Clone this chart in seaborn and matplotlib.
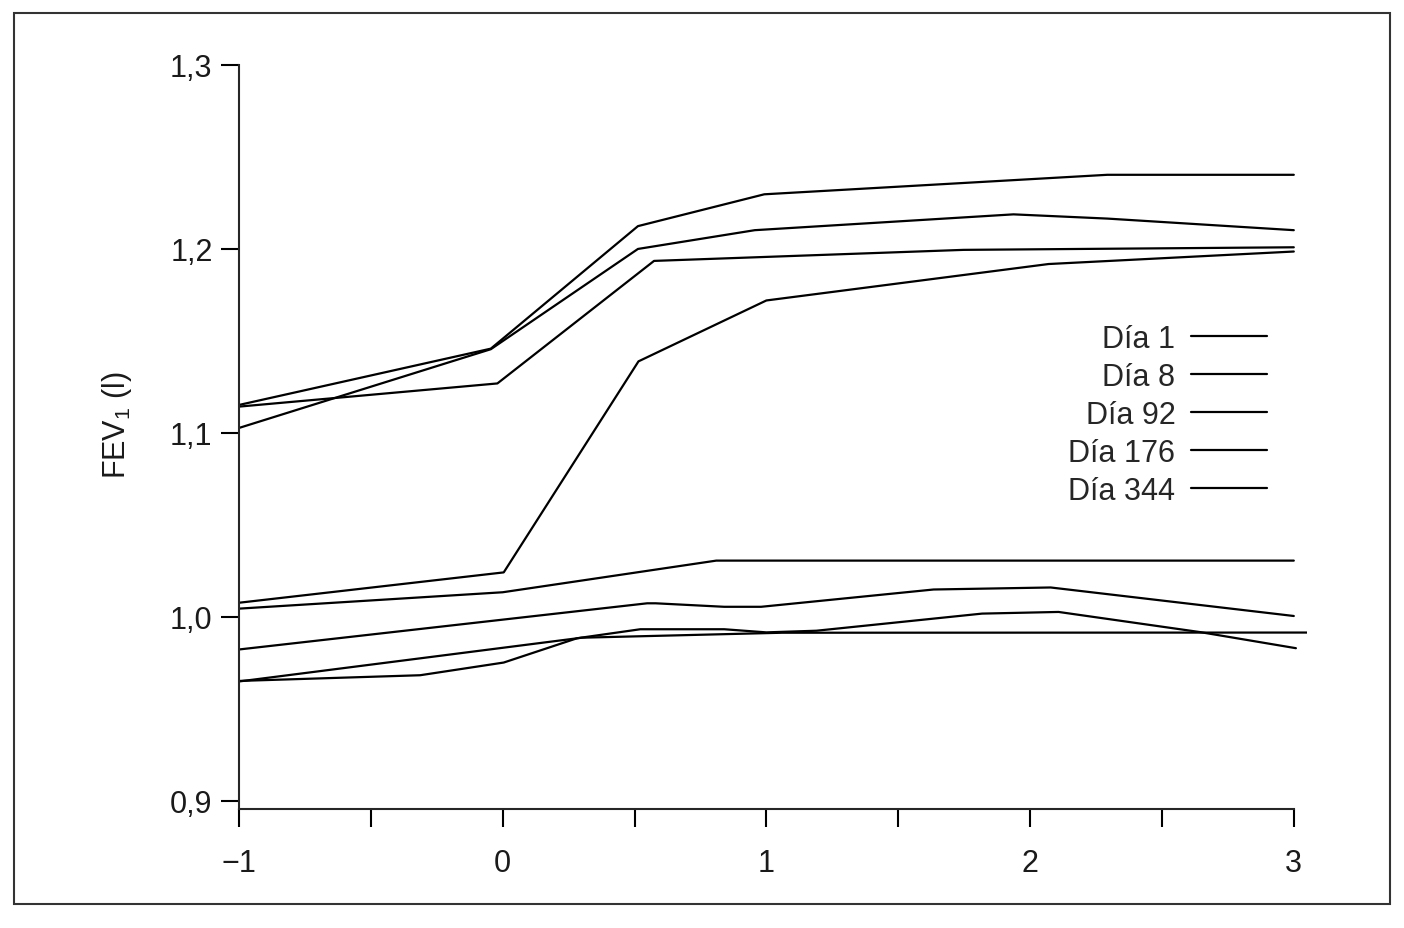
import pandas as pd
import matplotlib.pyplot as plt
import seaborn as sns
from matplotlib.lines import Line2D
from matplotlib.patches import Rectangle

# curvas superiores
x_sup1 = [-1, -0.045, 0.513, 0.992, 2.293, 3.0]
y_sup1 = [1.1152, 1.1458, 1.2124, 1.2297, 1.2403, 1.2403]
x_sup2 = [-1, -0.045, 0.513, 0.956, 1.937, 2.293, 3.0]
y_sup2 = [1.1027, 1.1455, 1.2000, 1.2102, 1.2188, 1.2165, 1.2102]
x_sup3 = [-1, -0.02, 0.574, 1.748, 3.0]
y_sup3 = [1.1143, 1.1269, 1.1935, 1.1995, 1.2009]
x_sup4 = [-1, 0.004, 0.515, 1.0, 2.07, 3.0]
y_sup4 = [1.0077, 1.0242, 1.1389, 1.1720, 1.1918, 1.1986]

# curvas inferiores
x_inf1 = [-1, 0.0, 0.81, 3.0]
y_inf1 = [1.0045, 1.0134, 1.0306, 1.0306]
x_inf2 = [-1, 0.548, 0.58, 0.84, 0.98, 1.634, 2.078, 3.0]
y_inf2 = [0.9823, 1.0074, 1.0074, 1.0055, 1.0055, 1.0149, 1.0160, 1.0005]
x_inf3 = [-1.05, 0.30, 1.06, 3.05]
y_inf3 = [0.9640, 0.9887, 0.9914, 0.9915]
x_inf4 = [-1, -0.313, 0.004, 0.282, 0.522, 0.84, 1.0, 1.19, 1.818, 2.108, 2.647, 3.008]
y_inf4 = [0.9652, 0.9683, 0.9752, 0.9884, 0.9933, 0.9933, 0.9916, 0.9925, 1.0018, 1.0027, 0.9917, 0.9830]

dias = ['Día 1', 'Día 8', 'Día 92', 'Día 176', 'Día 344']
y_ticks = [0.9, 1.0, 1.1, 1.2, 1.3]
y_labels = ['0,9', '1,0', '1,1', '1,2', '1,3']
x_ticks = [-1, 0, 1, 2, 3]
x_labels = ['\u22121', '0', '1', '2', '3']

curvas = {
    'sup1': (x_sup1, y_sup1), 'sup2': (x_sup2, y_sup2),
    'sup3': (x_sup3, y_sup3), 'sup4': (x_sup4, y_sup4),
    'inf1': (x_inf1, y_inf1), 'inf2': (x_inf2, y_inf2),
    'inf3': (x_inf3, y_inf3), 'inf4': (x_inf4, y_inf4),
}
df = pd.concat([pd.DataFrame({'x': xs, 'fev1': ys, 'curva': k}) for k, (xs, ys) in curvas.items()])

sns.set_style('ticks')
plt.rcParams['font.family'] = ['Liberation Sans Narrow', 'Liberation Sans', 'DejaVu Sans']
plt.rcParams['mathtext.default'] = 'regular'

fig = plt.figure(figsize=(14.04, 9.29), dpi=100)
ax = fig.add_axes([0.1702, 0.1281, 0.7607, 0.8009])

sns.lineplot(data=df, x='x', y='fev1', units='curva', estimator=None, sort=False,
             color='black', lw=1.6, ax=ax)

ax.set_xlim(-1, 3.05)
ax.set_ylim(0.8956, 1.3)
ax.set_xticks(x_ticks)
ax.set_xticklabels(x_labels)
ax.set_xticks([-0.5, 0.5, 1.5, 2.5], minor=True)
ax.set_yticks(y_ticks)
ax.set_yticklabels(y_labels)
ax.tick_params(axis='both', which='both', direction='out', length=13, width=1.5,
               labelsize=22, color='black', labelcolor='#1a1a1a')
ax.tick_params(axis='x', which='both', pad=15)
ax.tick_params(axis='y', pad=6)

for s in ['top', 'right']:
    ax.spines[s].set_visible(False)
for s in ['left', 'bottom']:
    ax.spines[s].set_linewidth(1.5)
ax.spines['bottom'].set_bounds(-1, 3)
ax.spines['left'].set_bounds(0.8956, 1.3)

ax.set_xlabel('')
ax.set_ylabel('FEV$_1$ (l)', fontsize=22, color='#1a1a1a')
ax.yaxis.set_label_coords(-0.098, 0.517)

handles = [Line2D([], [], color='black', lw=1.6) for _ in dias]
ax.legend(handles, dias, loc='upper right', bbox_to_anchor=(1267 / 1404, 1 - 325 / 929),
          bbox_transform=fig.transFigure, frameon=False, markerfirst=False,
          alignment='right', fontsize=22, handlelength=2.5, handletextpad=0.5,
          labelspacing=0.26, borderpad=0, borderaxespad=0)

fig.patches.append(Rectangle((14 / 1404, 1 - 905 / 929), 1376 / 1404, 891 / 929,
                             transform=fig.transFigure, fill=False, lw=1.5,
                             edgecolor='#333333'))

fig.savefig('out.png', dpi=100)
